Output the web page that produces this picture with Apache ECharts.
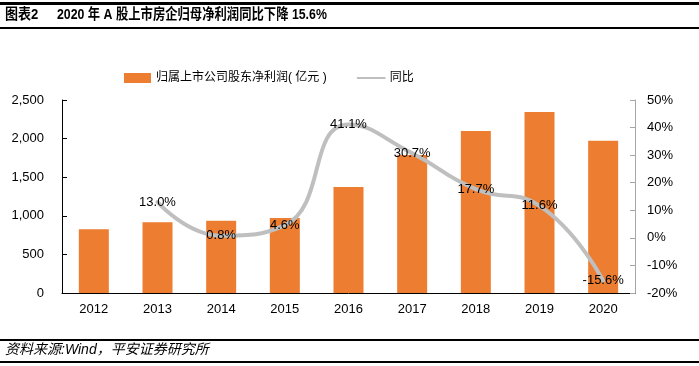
<!DOCTYPE html>
<html><head><meta charset="utf-8">
<script src="https://cdn.jsdelivr.net/npm/echarts@6/dist/echarts.min.js"></script>
<style>html,body{margin:0;padding:0;background:#fff}#c{width:699px;height:366px}</style>
</head><body><div id="c"></div>
<script>
const categories = ['2012','2013','2014','2015','2016','2017','2018','2019','2020'];
const profit = [825, 915, 936, 971, 1373, 1787, 2100, 2344, 1972];
const yoy = [null, 13.0, 0.8, 4.6, 41.1, 30.7, 17.7, 11.6, -15.6];
const leftTicks = [0, 500, 1000, 1500, 2000, 2500];
const rightTicks = [-20, -10, 0, 10, 20, 30, 40, 50];
const barName = '归属上市公司股东净利润( 亿元 )';
const lineName = '同比';

const FONT = '"Liberation Sans", Arial, "Noto Sans CJK SC", sans-serif';
const chart = echarts.init(document.getElementById('c'));
chart.setOption({
  animation: false,
  textStyle: { fontFamily: FONT },
  graphic: [
    { type: 'rect', shape: { x: 0, y: 2, width: 699, height: 3 }, style: { fill: '#000' } },
    { type: 'rect', shape: { x: 0, y: 27, width: 699, height: 2 }, style: { fill: '#000' } },
    { type: 'rect', shape: { x: 0, y: 339, width: 699, height: 2 }, style: { fill: '#000' } },
    { type: 'rect', shape: { x: 0, y: 361, width: 699, height: 2 }, style: { fill: '#000' } },
    { type: 'text', x: 5, y: 8, scaleX: 0.9, style: { text: '图表2', font: 'bold 14.5px ' + FONT, fill: '#000' } },
    { type: 'text', x: 57, y: 8, scaleX: 0.85, style: { text: '2020 年 A 股上市房企归母净利润同比下降 15.6%', font: 'bold 14.5px ' + FONT, fill: '#000' } },
    { type: 'text', x: 5, y: 343, style: { text: '资料来源:Wind，平安证券研究所', font: 'italic 14px ' + FONT, fill: '#000' } }
  ],
  legend: {
    left: 119, top: 67, itemGap: 30,
    textStyle: { fontSize: 12, color: '#000', fontFamily: FONT },
    data: [
      { name: barName, icon: 'rect', itemStyle: { color: '#ED7D31' } },
      { name: lineName, itemStyle: { opacity: 0 } }
    ],
    itemWidth: 27, itemHeight: 10
  },
  grid: { left: 62, right: 64, top: 100, bottom: 73 },
  xAxis: {
    type: 'category', data: categories,
    axisLine: { lineStyle: { color: '#000', width: 1 } },
    axisTick: { inside: true, length: 5, lineStyle: { color: '#000' } },
    axisLabel: { color: '#000', fontSize: 13, margin: 10 }
  },
  yAxis: [
    {
      type: 'value', min: 0, max: 2500, interval: 500,
      axisLine: { show: true, lineStyle: { color: '#000' } },
      axisTick: { show: true, inside: true, length: 5, lineStyle: { color: '#000' } },
      splitLine: { show: false },
      axisLabel: { color: '#000', fontSize: 13, margin: 18,
        formatter: v => leftTicks.includes(v) ? v.toLocaleString('en-US') : '' }
    },
    {
      type: 'value', min: -20, max: 50, interval: 10, position: 'right',
      axisLine: { show: true, lineStyle: { color: '#A6A6A6' } },
      axisTick: { show: true, inside: true, length: 5, lineStyle: { color: '#A6A6A6' } },
      splitLine: { show: false },
      axisLabel: { color: '#000', fontSize: 13, margin: 12,
        formatter: v => rightTicks.includes(v) ? v + '%' : '' }
    }
  ],
  series: [
    {
      name: barName, type: 'bar', data: profit, barWidth: 30,
      itemStyle: { color: '#ED7D31' }
    },
    {
      name: lineName, type: 'line', yAxisIndex: 1, data: yoy, smooth: 0.5,
      connectNulls: false,
      symbol: 'circle', symbolSize: 1,
      lineStyle: { color: '#BFBFBF', width: 4, cap: 'round' },
      itemStyle: { color: '#BFBFBF' },
      label: { show: true, position: 'inside', color: '#000', fontSize: 13,
        formatter: p => p.value == null ? '' : p.value.toFixed(1) + '%' }
    }
  ]
});
</script></body></html>
